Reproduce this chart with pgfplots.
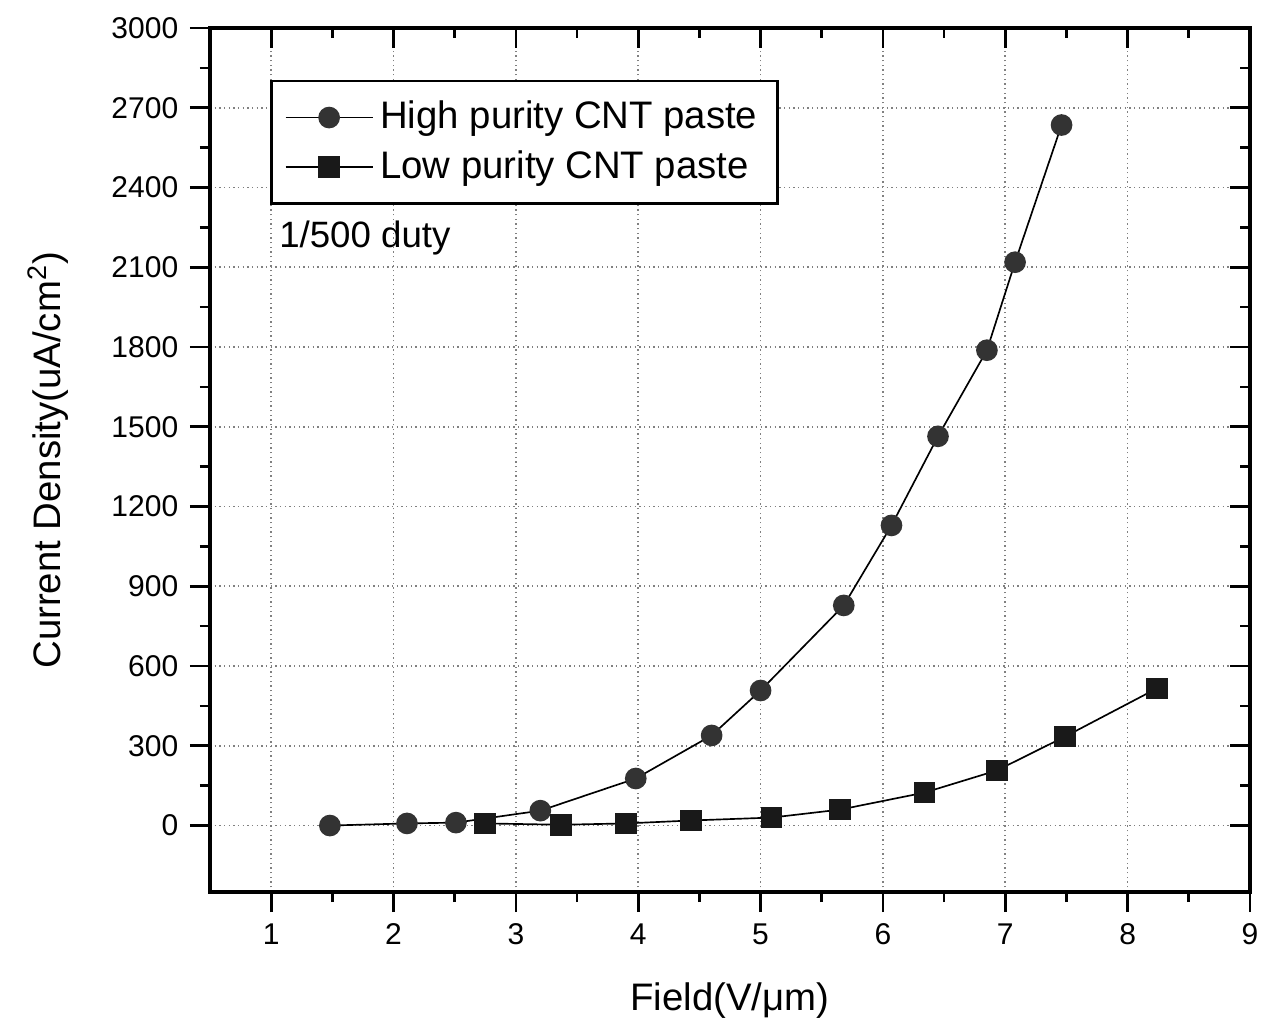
\documentclass[border=0pt]{standalone}
\usepackage{pgfplots}
\pgfplotsset{compat=1.18}
\usepackage{fontspec}
\setmainfont{Liberation Sans}
\begin{document}
\begin{tikzpicture}[x=1pt,y=1pt]
\useasboundingbox (-63,-41.1) rectangle (321.9,267.6);
\pgfplotsset{
  common/.style={
    scale only axis, width=312pt, height=259.2pt,
    xmin=0.5, xmax=9, ymin=-250, ymax=3000,
    xtick={1,2,...,9}, ytick={0,300,...,3000},
    minor x tick num=1, minor y tick num=1,
    major tick length=6pt, minor tick length=3pt,
    axis line style={line width=1.1pt},
    tick style={black, line width=0.8pt},
  }
}
\begin{axis}[common,
  xtick pos=left, ytick pos=left, tick align=outside,
  grid=major, major grid style={gray, densely dotted, line width=0.5pt},
  xlabel={Field(V/μm)},
  ylabel={Current Density(uA/cm\textsuperscript{2})},
  label style={font=\fontsize{11.5}{13}\selectfont},
  xlabel style={yshift=-4.5pt},
  ylabel style={yshift=6pt},
  ticklabel style={font=\fontsize{9}{10}\selectfont},
  /pgf/number format/assume math mode=true,
  /pgf/number format/1000 sep={},
  legend style={at={(0.0577,0.94)}, anchor=north west, draw=black, line width=0.8pt,
    font=\fontsize{11.5}{13}\selectfont, row sep=1pt, inner xsep=4pt, inner ysep=4pt},
  legend cell align=left,
  legend image code/.code={\draw[mark repeat=2,mark phase=2,#1] plot coordinates {(0cm,0cm) (0.46cm,0cm) (0.92cm,0cm)};},
]
\addplot[black, line width=0.5pt, mark=*, mark size=3pt, mark options={fill=black!80, draw=black!80}]
coordinates {(1.48,0) (2.11,8) (2.51,11) (3.20,56) (3.98,177) (4.60,339) (5.00,508) (5.68,828) (6.07,1129) (6.45,1464) (6.85,1788) (7.08,2119) (7.46,2635)};
\addlegendentry{High purity CNT paste}
\addplot[black, line width=0.5pt, mark=square*, mark size=3pt, mark options={fill=black!90, draw=black!90}]
coordinates {(2.75,8) (3.37,3) (3.90,8) (4.43,19) (5.09,30) (5.65,60) (6.34,124) (6.93,207) (7.49,335) (8.24,516)};
\addlegendentry{Low purity CNT paste}
\node[anchor=west, font=\fontsize{11}{12}\selectfont] at (axis cs:0.97,2210) {1/500 duty};
\end{axis}
\begin{axis}[common,
  xtick pos=right, ytick pos=right, tick align=inside,
  xticklabels={}, yticklabels={},
]
\end{axis}
\end{tikzpicture}
\end{document}
